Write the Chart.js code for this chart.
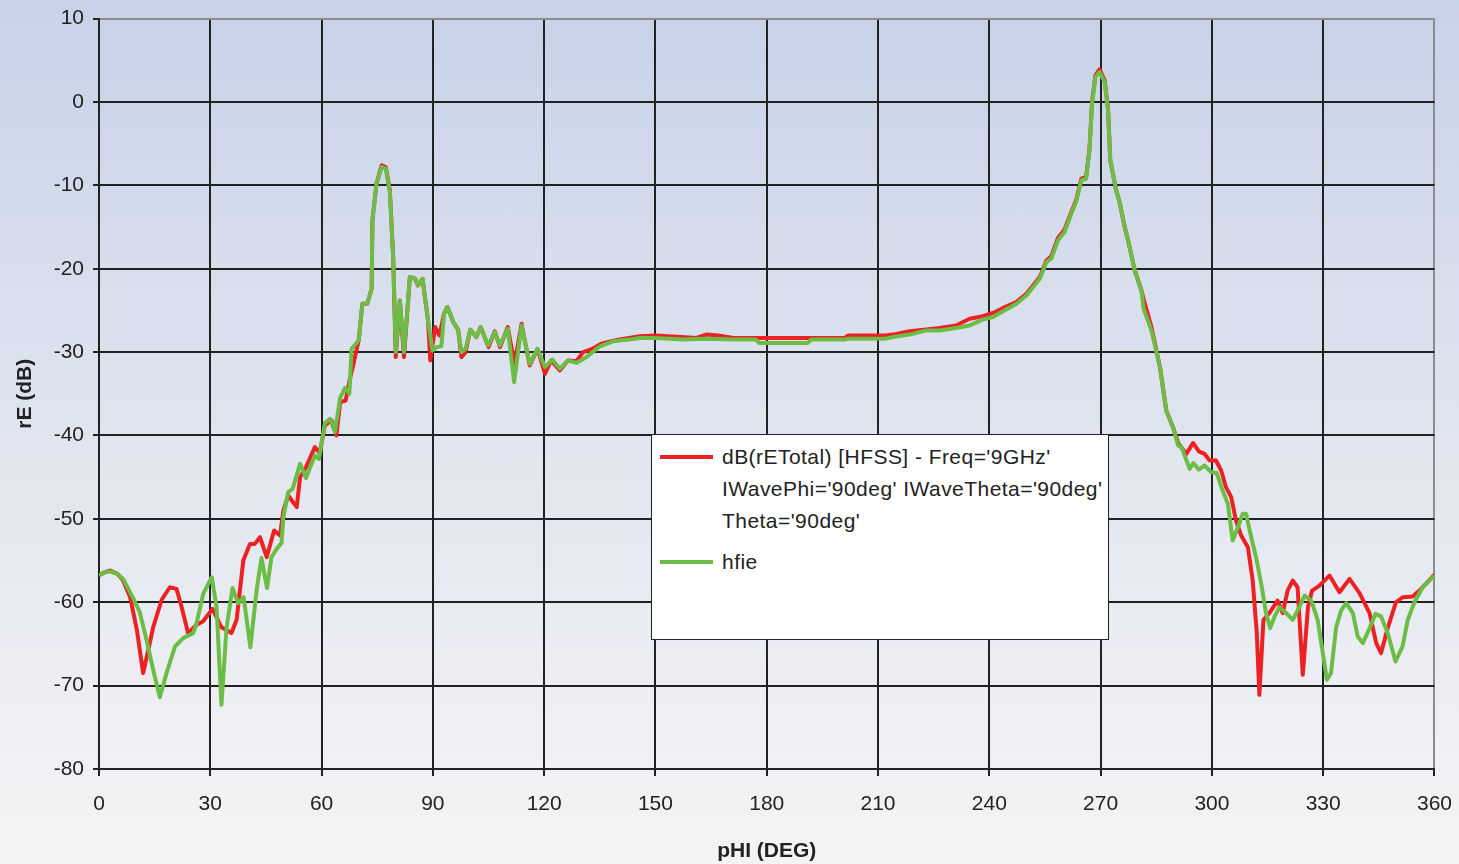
<!DOCTYPE html>
<html>
<head>
<meta charset="utf-8">
<script src="https://cdn.jsdelivr.net/npm/chart.js@4.4.1/dist/chart.umd.min.js"></script>
<style>
    html, body {
        margin: 0;
        padding: 0;
        width: 1459px;
        height: 864px;
        overflow: hidden;
        font-family: "Liberation Sans", Arial, sans-serif;
    }
    body {
        background: linear-gradient(to bottom, #c6d2e8 0%, #dde3ee 45%, #eceef3 80%, #f4f4f4 100%);
        position: relative;
    }
    #wrap {
        position: absolute;
        left: 0;
        top: -3px;
        width: 1468px;
        height: 867px;
    }
    #legend {
        position: absolute;
        left: 651px;
        top: 434px;
        width: 458px;
        height: 206px;
        box-sizing: border-box;
        background: #fff;
        border: 1.5px solid #222;
        color: #222;
        font-size: 21px;
        letter-spacing: 0.45px;
    }
    .item {
        position: relative;
        padding-left: 70px;
        line-height: 32px;
    }
    .item .swatch {
        position: absolute;
        left: 8px;
        top: 14px;
        width: 53px;
        height: 4px;
    }
</style>
</head>
<body>
<div id="wrap"><canvas id="patternChart" width="1468" height="867"></canvas></div>
<div id="legend"></div>
<script>
// Series labels
const seriesNames = [
    "dB(rETotal) [HFSS] - Freq='9GHz'|IWavePhi='90deg' IWaveTheta='90deg'|Theta='90deg'",
    'hfie'
];
const seriesColors = ['#ed2024', '#6cbd45'];

// tick labels
const phiTicks = [0, 30, 60, 90, 120, 150, 180, 210, 240, 270, 300, 330, 360];
const dbTicks = [10, 0, -10, -20, -30, -40, -50, -60, -70, -80];

// HFSS curve (red)
const hfssPhi = [0, 1.5, 3, 5, 6.5, 8.4, 10.2, 11.9, 13.3, 14.6, 16.9, 19.1, 20.9, 22.3, 24, 26.3, 28, 30.6, 33, 35.7,
    37.1, 38.9, 40.7, 42, 43.4, 45.2, 47.2, 48.8, 49.7, 51, 53.3, 54.2, 55.8, 58.2, 59.5, 60.9, 62.7, 64, 65, 66.5,
    67.5, 68.6, 70, 71, 72.3, 73.5, 73.7, 74.8, 76.2, 77.3, 78.4, 79.3, 80, 81.1, 82.2, 83.8, 85.2, 86, 87.2, 88.7,
    89.3, 90.6, 91.8, 93, 93.9, 95.5, 96.8, 97.7, 98.8, 100.1, 101.7, 102.9, 105, 106.7, 108.1, 110.2, 112, 113.9, 116.1, 118.2,
    120.2, 121.9, 124.2, 126.4, 128.7, 130.5, 133, 135.4, 139.9, 145.8, 150, 157, 161, 163.7, 167, 171, 177, 191, 201, 202,
    212, 214, 218.5, 223, 226.6, 231, 234.7, 238.2, 241, 243.7, 247.3, 250, 253.6, 255.4, 256.7, 258.5, 260.3, 262.1, 263.4, 264.8,
    266.1, 267, 267.7, 268.6, 269.7, 271.1, 272, 272.6, 274.2, 275.1, 276.5, 277.4, 279.2, 281, 281.8, 283.7, 286, 287.7, 289.5, 291,
    293.1, 294.9, 296.5, 298, 299.4, 301.1, 302.5, 303.8, 305.2, 306.5, 307.9, 309.7, 311, 312.1, 312.8, 313.9, 315.5, 317.7, 319.1, 320.4,
    321.8, 323.1, 324.5, 325.9, 327, 329, 331.7, 334.4, 337.1, 339.8, 342.5, 344.3, 345.6, 347.4, 349.6, 351.4, 354.1, 356.4, 360];
const hfssDb = [-56.8, -56.4, -56.2, -56.6, -57.4, -59.4, -63.3, -68.5, -65.7, -63, -59.7, -58.2, -58.4, -60.6, -63.7, -62.7, -62.3, -60.8, -63, -63.7,
    -62.1, -55, -53, -53, -52.2, -54.6, -51.4, -52, -49, -47.2, -48.6, -45, -43.8, -41.4, -42.1, -38.8, -38.2, -40, -36, -35.8,
    -33.5, -31.4, -28.6, -24.2, -24.2, -22.4, -14.2, -9.8, -7.6, -7.8, -10.6, -18.6, -30.6, -23.8, -30.6, -21, -21.2, -22, -21.2, -26.2,
    -31, -27, -28, -25.4, -24.6, -26.4, -27.3, -30.6, -30, -27.3, -28.2, -27, -29.4, -27.5, -29.4, -27, -31.5, -26.6, -31.6, -29.6,
    -32.6, -31, -32.2, -31, -31.1, -30, -29.6, -29, -28.5, -28.1, -28, -28.2, -28.3, -27.9, -28, -28.3, -28.3, -28.3, -28.3, -28,
    -28, -27.9, -27.5, -27.3, -27.1, -26.8, -26, -25.7, -25.3, -24.7, -24, -23, -21, -19, -18.5, -16.3, -15.3, -13.2, -11.8, -9.2,
    -9, -5.6, 0, 3.2, 3.9, 2.6, -0.8, -7, -10.6, -12, -15, -16.6, -20.2, -22.6, -24, -27, -31.8, -37, -39, -41,
    -42.2, -40.9, -41.9, -42.2, -43, -43, -44.2, -46.2, -47.4, -50.2, -52, -53.4, -57.4, -63.7, -71.1, -62.1, -61.3, -59.8, -61.3, -58.6,
    -57.4, -58.2, -68.7, -60.6, -58.6, -58, -56.8, -58.8, -57.2, -58.9, -61.3, -64.9, -66.1, -63.1, -60, -59.4, -59.3, -58.4, -56.7];

// hfie curve (green)
const hfiePhi = [0, 1.5, 3, 5, 6.5, 9.2, 11, 12.8, 14.6, 16.4, 18.2, 20.5, 22.7, 25.4, 26.3, 28.1, 30.4, 31.7, 33, 34.4,
    36, 37.5, 39, 40.8, 42.5, 43.8, 45.3, 46.5, 47.9, 49.2, 49.7, 51, 52.2, 54.2, 55.8, 58.2, 59.3, 60.9, 62.3, 63.6,
    65, 66.3, 67.5, 68.1, 70, 71, 72.3, 73.5, 73.7, 74.8, 76.2, 77.3, 78.4, 79.3, 80, 81.1, 82.2, 83.8, 85.2, 86,
    87.2, 88.7, 89.9, 91, 92.3, 93, 93.9, 95.5, 96.8, 97.7, 98.8, 100.1, 101.7, 102.9, 104.9, 106.7, 108, 110.2, 111.9, 113.9,
    116.1, 118.2, 120.2, 122.2, 124.2, 126.4, 128.7, 131.4, 135, 138.6, 143, 145.8, 150, 157.4, 163.7, 171, 177, 178, 191, 192,
    201, 202, 212, 214, 218.5, 223, 226.6, 231, 234.7, 238.2, 241, 243.7, 247.3, 250, 253.6, 255.4, 256.7, 258.5, 260.3, 262.1,
    263.4, 264.8, 266.1, 267, 267.7, 268.6, 269.7, 271.1, 272, 272.6, 274.2, 275.1, 276.5, 277.4, 279.2, 281, 281.6, 283.7, 286, 287.7,
    289.5, 290.9, 291.8, 294, 295, 296.5, 298, 299.8, 301.3, 302.9, 304.3, 305.6, 307, 308.3, 309.2, 310.6, 311.9, 313.3, 314.6, 315.7,
    316.9, 318.2, 320, 321.8, 323.1, 325, 326.8, 328.5, 329.9, 331, 332.1, 333.5, 334.8, 336.2, 338, 339.3, 340.7, 342.5, 344.1, 345.6,
    347.4, 349.5, 351.4, 352.8, 354.6, 356.8, 360];
const hfieDb = [-56.8, -56.4, -56.3, -56.6, -57.2, -59.5, -61.2, -64.5, -68.1, -71.4, -68.5, -65.3, -64.3, -63.7, -62.5, -59, -57, -60.6, -72.3, -63,
    -58.3, -60.1, -59.4, -65.4, -58.5, -54.7, -58.3, -54.6, -53.6, -52.9, -49.8, -46.8, -46.4, -43.4, -45.1, -42.4, -42.8, -38.5, -38, -39.6,
    -35.5, -34.3, -35, -29.6, -28.6, -24.2, -24.2, -22.4, -14.2, -9.8, -7.8, -8, -10.8, -18.6, -30, -23.8, -30, -21, -21.2, -22,
    -21.2, -26.2, -29.8, -29.4, -29.3, -25.4, -24.6, -26.4, -27.3, -30, -29.6, -27.3, -28.2, -27, -29.2, -27.6, -29.2, -27.2, -33.6, -26.8,
    -31.4, -29.6, -31.8, -30.9, -32, -31, -31.3, -30.6, -29.3, -28.7, -28.5, -28.3, -28.3, -28.5, -28.4, -28.5, -28.5, -28.9, -28.9, -28.5,
    -28.5, -28.4, -28.4, -28.2, -27.9, -27.4, -27.4, -27.1, -26.8, -26.1, -25.8, -25.1, -24.2, -23.2, -21.2, -19.2, -18.8, -16.6, -15.6, -13.4,
    -12, -9.4, -9.2, -5.8, -0.2, 3, 3.6, 2.4, -1, -7, -10.6, -12, -15, -16.6, -20.2, -22.6, -24.8, -27.4, -31.8, -37,
    -39, -41.2, -41.4, -44, -43.3, -44.1, -43.6, -44.4, -44.5, -46.6, -48.2, -52.6, -51, -49.4, -49.4, -52.2, -54.6, -57.8, -61.3, -63.1,
    -61.7, -60.6, -61.3, -62.1, -61, -59.2, -59.8, -62.1, -66.1, -69.3, -68.5, -63, -61, -60.1, -61.3, -64.1, -64.9, -63.1, -61.4, -61.7,
    -63.7, -67.1, -65.3, -62.1, -60, -58.2, -56.8];

function toPoints(xs, ys) {
    return xs.map((x, i) => ({ x: x, y: ys[i] }));
}

const fontFamily = '"Liberation Sans", Arial, sans-serif';

const ctx = document.getElementById('patternChart').getContext('2d');
const chart = new Chart(ctx, {
    type: 'line',
    data: {
        datasets: [{
            label: seriesNames[0],
            data: toPoints(hfssPhi, hfssDb),
            borderColor: seriesColors[0],
            borderWidth: 4,
            pointRadius: 0,
            tension: 0,
            borderJoinStyle: 'round',
            order: 2
        }, {
            label: seriesNames[1],
            data: toPoints(hfiePhi, hfieDb),
            borderColor: seriesColors[1],
            borderWidth: 4,
            pointRadius: 0,
            tension: 0,
            borderJoinStyle: 'round',
            order: 1
        }]
    },
    options: {
        responsive: false,
        animation: false,
        events: [],
        layout: {
            padding: { top: 0, right: 0, left: 0, bottom: 0 }
        },
        scales: {
            x: {
                type: 'linear',
                min: 0,
                max: 360,
                afterBuildTicks: function(scale) {
                    scale.ticks = phiTicks.map(v => ({ value: v }));
                },
                afterFit: function(scale) {
                    scale.height = 95;
                },
                ticks: {
                    color: '#222',
                    padding: 16,
                    maxRotation: 0,
                    font: { family: fontFamily, size: 21 }
                },
                grid: {
                    color: c => (c.tick && c.tick.value === 360) ? '#8c8c8c' : '#222',
                    tickColor: '#222',
                    lineWidth: 2,
                    tickLength: 7
                },
                border: { color: '#222', width: 2 },
                title: {
                    display: true,
                    text: 'pHI (DEG)',
                    color: '#222',
                    font: { family: fontFamily, size: 21, weight: 'bold' },
                    padding: { top: 0, bottom: 0 }
                }
            },
            y: {
                type: 'linear',
                min: -80,
                max: 10,
                afterBuildTicks: function(scale) {
                    scale.ticks = dbTicks.map(v => ({ value: v }));
                },
                afterFit: function(scale) {
                    scale.width = 99;
                },
                ticks: {
                    color: '#222',
                    padding: 9,
                    font: { family: fontFamily, size: 21 }
                },
                grid: {
                    color: c => (c.tick && c.tick.value === 10) ? '#8c8c8c' : '#222',
                    tickColor: '#222',
                    lineWidth: 2,
                    tickLength: 6
                },
                border: { color: '#222', width: 2 },
                title: {
                    display: true,
                    text: 'rE (dB)',
                    color: '#222',
                    font: { family: fontFamily, size: 21, weight: 'bold' },
                    padding: { top: 13, bottom: 0 }
                }
            }
        },
        plugins: {
            legend: { display: false },
            tooltip: { enabled: false }
        }
    }
});

// legend box, built from the dataset labels
const legendBox = document.getElementById('legend');
chart.data.datasets.forEach((ds, i) => {
    const item = document.createElement('div');
    item.className = 'item';
    item.style.marginTop = i === 0 ? '6px' : '9px';
    const sw = document.createElement('span');
    sw.className = 'swatch';
    sw.style.background = ds.borderColor;
    item.appendChild(sw);
    ds.label.split('|').forEach(line => {
        const d = document.createElement('div');
        d.textContent = line;
        item.appendChild(d);
    });
    legendBox.appendChild(item);
});
</script>
</body>
</html>
